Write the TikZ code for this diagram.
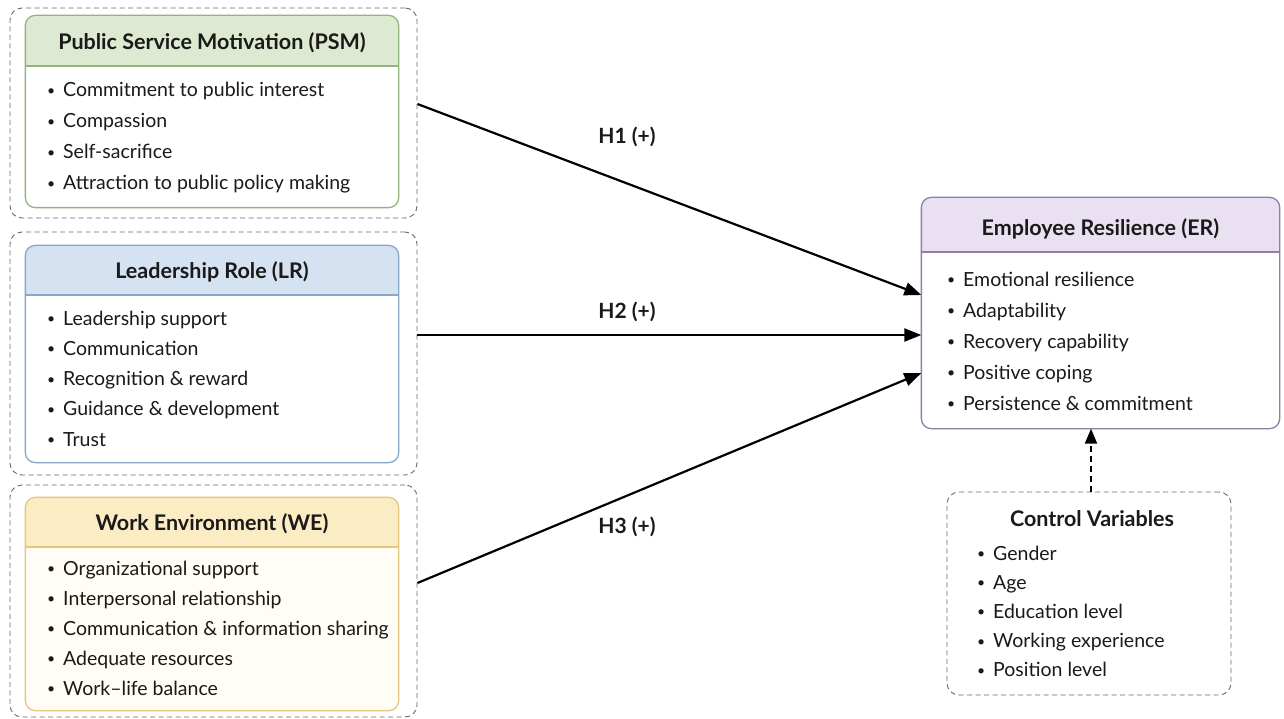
\documentclass[tikz,border=0pt]{standalone}
\usepackage{fontspec}
\setmainfont{Lato}
\usetikzlibrary{arrows.meta,calc}
\definecolor{psmh}{HTML}{DDE9D0}
\definecolor{psml}{HTML}{93B37F}
\definecolor{lrh}{HTML}{D4E2F1}
\definecolor{lrl}{HTML}{8AA7C6}
\definecolor{weh}{HTML}{FCECC4}
\definecolor{wel}{HTML}{E3C77F}
\definecolor{web}{HTML}{FFFDF5}
\definecolor{erh}{HTML}{E9E1F1}
\definecolor{erl}{HTML}{8F7FA6}
\definecolor{dashc}{HTML}{6A6A6A}
\definecolor{txt}{HTML}{1A1A1A}
\newcommand{\bul}{\makebox[18pt][l]{\hspace{2pt}\raisebox{1.5pt}{\fontsize{14}{14}\selectfont •}}}
\begin{document}
\begin{tikzpicture}[x=1pt,y=-1pt,
  outerbox/.style={draw=dashc, dash pattern=on 5pt off 3.5pt, line width=0.9pt, rounded corners=12pt, inner sep=0pt},
  inbox/.style={rounded corners=10pt, line width=1.3pt, inner sep=0pt},
  ttl/.style={font=\fontsize{21.5}{24}\selectfont\bfseries, text=txt, anchor=base, inner sep=0pt},
  itm/.style={font=\fontsize{19.5}{22}\selectfont, text=txt, anchor=base west, inner sep=0pt},
  hyp/.style={-{Triangle[length=17pt,width=13pt]}, line width=2.2pt, draw=black},
  lab/.style={font=\fontsize{21}{24}\selectfont\bfseries, text=txt, inner sep=0pt},
  ctrl/.style={-{Triangle[length=15pt,width=12pt]}, line width=2pt, dash pattern=on 6pt off 4pt, draw=black}
]
\useasboundingbox[fill=white] (0,0) rectangle (1284,719);

% ---------- outer dashed groups
\node[outerbox, minimum width=407pt, minimum height=210pt] (psmo) at (213.5,113) {};
\node[outerbox, minimum width=407pt, minimum height=243pt] (lro) at (213.5,353.5) {};
\node[outerbox, minimum width=407pt, minimum height=232pt] (weo) at (213.5,601) {};

% ---------- PSM
\node[inbox, fill=white, minimum width=372pt, minimum height=191pt] (psm) at (212,111.5) {};
\begin{scope}
  \clip[rounded corners=10pt] (psm.north west) rectangle (psm.south east);
  \fill[psmh] (psm.north west) rectangle (psm.east |- 0,66);
\end{scope}
\draw[psml, line width=1.3pt] (psm.west |- 0,66) -- (psm.east |- 0,66);
\draw[inbox, draw=psml] (psm.north west) rectangle (psm.south east);
\node[ttl] (psmt) at (212,50) {Public Service Motivation (PSM)};
\foreach \t [count=\i] in {Commitment to public interest, Compassion, Self-sacrifice, Attraction to public policy making}
  \node[itm] (psmi\i) at (45,{97+31*(\i-1)}) {\bul\t};

% ---------- LR
\node[inbox, fill=white, minimum width=372pt, minimum height=216pt] (lr) at (212,354) {};
\begin{scope}
  \clip[rounded corners=10pt] (lr.north west) rectangle (lr.south east);
  \fill[lrh] (lr.north west) rectangle (lr.east |- 0,295);
\end{scope}
\draw[lrl, line width=1.3pt] (lr.west |- 0,295) -- (lr.east |- 0,295);
\draw[inbox, draw=lrl] (lr.north west) rectangle (lr.south east);
\node[ttl] (lrt) at (212,279) {Leadership Role (LR)};
\foreach \t [count=\i] in {Leadership support, Communication, Recognition \& reward, Guidance \& development, Trust}
  \node[itm] (lri\i) at (45,{325+30.3*(\i-1)}) {\bul\t};

% ---------- WE
\node[inbox, fill=web, minimum width=372pt, minimum height=212pt] (we) at (212,604) {};
\begin{scope}
  \clip[rounded corners=10pt] (we.north west) rectangle (we.south east);
  \fill[weh] (we.north west) rectangle (we.east |- 0,547);
\end{scope}
\draw[wel, line width=1.3pt] (we.west |- 0,547) -- (we.east |- 0,547);
\draw[inbox, draw=wel] (we.north west) rectangle (we.south east);
\node[ttl] (wet) at (212,530) {Work Environment (WE)};
\foreach \t [count=\i] in {Organizational support, Interpersonal relationship, Communication \& information sharing, Adequate resources, Work–life balance}
  \node[itm] (wei\i) at (45,{575+30*(\i-1)}) {\bul\t};

% ---------- ER
\node[inbox, fill=white, minimum width=357pt, minimum height=230pt] (er) at (1100.5,313) {};
\begin{scope}
  \clip[rounded corners=10pt] (er.north west) rectangle (er.south east);
  \fill[erh] (er.north west) rectangle (er.east |- 0,252);
\end{scope}
\draw[erl, line width=1.3pt] (er.west |- 0,252) -- (er.east |- 0,252);
\draw[inbox, draw=erl] (er.north west) rectangle (er.south east);
\node[ttl] (ert) at (1100.5,236) {Employee Resilience (ER)};
\foreach \t [count=\i] in {Emotional resilience, Adaptability, Recovery capability, Positive coping, Persistence \& commitment}
  \node[itm] (eri\i) at (945,{286+31*(\i-1)}) {\bul\t};

% ---------- Control variables
\node[outerbox, minimum width=284pt, minimum height=203pt] (cv) at (1089,593.5) {};
\node[ttl] (cvt) at (1092,526) {Control Variables};
\foreach \t [count=\i] in {Gender, Age, Education level, Working experience, Position level}
  \node[itm] (cvi\i) at (975,{560+29.2*(\i-1)}) {\bul\t};

% ---------- hypotheses
\draw[hyp] ([yshift=9pt]psmo.east) -- ([yshift=18pt]er.west);
\draw[hyp] ([yshift=18.5pt]lro.east) -- ([yshift=-22pt]er.west);
\draw[hyp] ([yshift=18pt]weo.east) -- ([yshift=-60pt]er.west);
\node[lab] (h1) at (627,137) {H1 (+)};
\node[lab] (h2) at (627,312) {H2 (+)};
\node[lab] (h3) at (627,527) {H3 (+)};

% ---------- control arrow
\draw[ctrl] (cv.north -| 1091,0) -- (er.south -| 1091,0);
\end{tikzpicture}
\end{document}
